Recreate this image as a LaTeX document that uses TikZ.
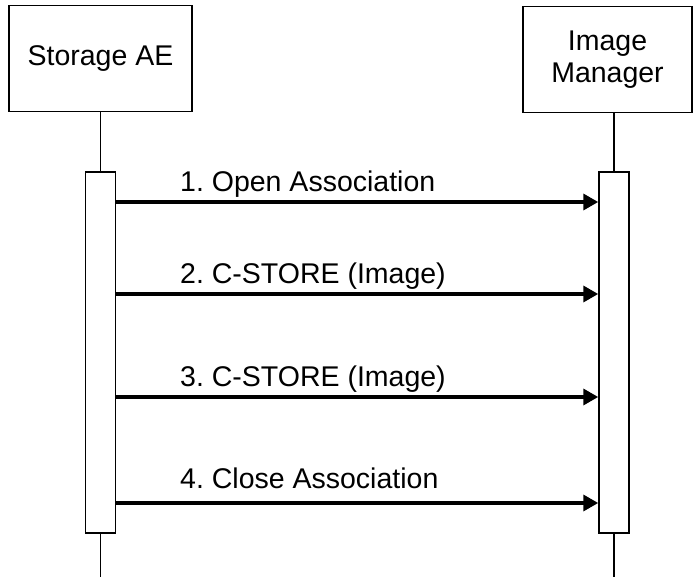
\documentclass[tikz,border=0pt]{standalone}
\usepackage{fontspec}
\setmainfont{Liberation Sans}
\frenchspacing
\usetikzlibrary{arrows.meta}
\begin{document}
\begin{tikzpicture}[
    x=1pt, y=-1pt,
    actor/.style={rectangle, draw, line width=1.5pt, align=center, font=\fontsize{28.5}{32}\selectfont},
    bar/.style={rectangle, draw, fill=white, line width=1.5pt, minimum width=30pt, minimum height=361pt, inner sep=0pt},
    life/.style={line width=1.5pt},
    msg/.style={-{Triangle[length=15pt, width=16pt]}, line width=3.5pt},
    label/.style={anchor=base west, inner sep=0pt, font=\fontsize{28.5}{32}\selectfont}
]
    \useasboundingbox (0,0) rectangle (694,577);

    % Actors
    \node[actor, minimum width=183pt, minimum height=106pt] (ae) at (100.5,58.5) {Storage AE};
    \node[actor, minimum width=169pt, minimum height=106pt] (im) at (607.5,59.5) {Image\\Manager};

    % Activation bars
    \node[bar] (aebar) at (100.5,352.5) {};
    \node[bar] (imbar) at (614,352.5) {};

    % Lifelines
    \coordinate (aeend) at (100.5,577);
    \coordinate (imend) at (614,577);
    \draw[life] (ae.south) -- (aebar.north);
    \draw[life] (aebar.south) -- (aeend);
    \draw[life] (im.south -| imbar.north) -- (imbar.north);
    \draw[life] (imbar.south) -- (imend);

    % Messages
    \coordinate (s1) at (aebar.east |- 0,202);
    \coordinate (r1) at (imbar.west |- 0,202);
    \coordinate (s2) at (aebar.east |- 0,294);
    \coordinate (r2) at (imbar.west |- 0,294);
    \coordinate (s3) at (aebar.east |- 0,397);
    \coordinate (r3) at (imbar.west |- 0,397);
    \coordinate (s4) at (aebar.east |- 0,503);
    \coordinate (r4) at (imbar.west |- 0,503);

    \draw[msg] (s1) -- (r1);
    \draw[msg] (s2) -- (r2);
    \draw[msg] (s3) -- (r3);
    \draw[msg] (s4) -- (r4);

    % Labels
    \node[label] (l1) at (180,192) {1. Open Association};
    \node[label] (l2) at (180,284) {2. C-STORE (Image)};
    \node[label] (l3) at (180,387) {3. C-STORE (Image)};
    \node[label] (l4) at (180,488) {4. Close Association};
\end{tikzpicture}
\end{document}
